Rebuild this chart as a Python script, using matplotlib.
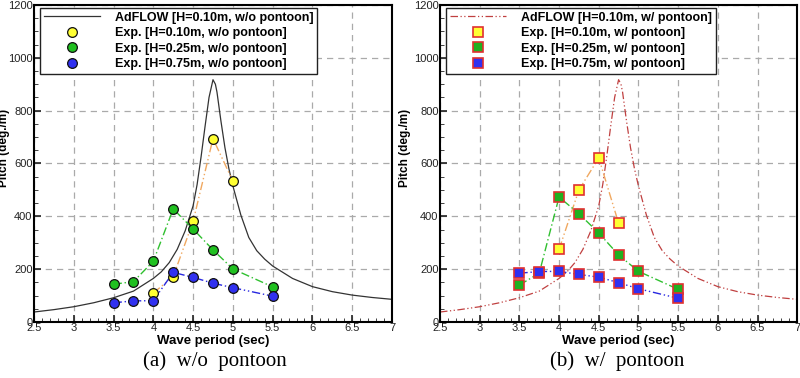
import matplotlib
matplotlib.use("Agg")
import matplotlib.pyplot as plt
from matplotlib.ticker import MultipleLocator

plt.rcParams['font.family'] = ['Liberation Sans', 'DejaVu Sans']

# AdFLOW curve (H=0.10m)
cfd_t = [2.5, 2.75, 3.0, 3.25, 3.5, 3.75, 4.0, 4.1, 4.2, 4.3, 4.4, 4.5,
         4.55, 4.6, 4.65, 4.7, 4.75, 4.78, 4.8, 4.85, 4.9, 4.95, 5.0,
         5.1, 5.2, 5.3, 5.4, 5.5, 5.75, 6.0, 6.25, 6.5, 6.75, 7.0]
cfd_pitch = [38, 47, 58, 73, 92, 117, 165, 190, 225, 275, 345, 440,
             520, 625, 740, 850, 917, 900, 870, 760, 660, 580, 515,
             405, 320, 270, 238, 212, 165, 134, 115, 102, 93, 86]

# experiments, w/o pontoon
a_t10 = [4.0, 4.25, 4.5, 4.75, 5.0]
a_p10 = [110, 172, 381, 694, 533]
a_t25 = [3.5, 3.75, 4.0, 4.25, 4.5, 4.75, 5.0, 5.5]
a_p25 = [143, 153, 230, 428, 352, 273, 201, 133]
a_t75 = [3.5, 3.75, 4.0, 4.25, 4.5, 4.75, 5.0, 5.5]
a_p75 = [73, 80, 81, 188, 169, 147, 130, 98]

# experiments, w/ pontoon
b_t10 = [4.0, 4.25, 4.5, 4.75]
b_p10 = [275, 500, 621, 374]
b_t25 = [3.5, 3.75, 4.0, 4.25, 4.5, 4.75, 5.0, 5.5]
b_p25 = [140, 185, 473, 410, 337, 254, 192, 124]
b_t75 = [3.5, 3.75, 4.0, 4.25, 4.5, 4.75, 5.0, 5.5]
b_p75 = [185, 191, 192, 180, 170, 149, 126, 90]

xticks = [2.5, 3, 3.5, 4, 4.5, 5, 5.5, 6, 6.5, 7]
xticklabels = ['2.5', '3', '3.5', '4', '4.5', '5', '5.5', '6', '6.5', '7']
yticks = [0, 200, 400, 600, 800, 1000, 1200]

fig = plt.figure(figsize=(8, 3.78), dpi=100)
ax1 = fig.add_axes([0.0425, 0.148, 0.4475, 0.839])
ax2 = fig.add_axes([0.55, 0.148, 0.4465, 0.839])

dd = (0, (6, 2, 1, 2, 1, 2))   # dash-dot-dot
dd1 = (0, (6, 2, 1, 2))        # dash-dot


def style(ax, ylx):
    ax.set_xlim(2.5, 7)
    ax.set_ylim(0, 1200)
    ax.set_xticks(xticks)
    ax.set_xticklabels(xticklabels)
    ax.set_yticks(yticks)
    ax.xaxis.set_minor_locator(MultipleLocator(0.1))
    ax.yaxis.set_minor_locator(MultipleLocator(50))
    ax.tick_params(which='both', direction='in', labelsize=8, colors='#222222',
                   pad=1)
    ax.tick_params(which='major', length=5, width=1.2)
    ax.tick_params(which='minor', length=3, width=0.6)
    ax.grid(True, which='major', color='#aaaaaa', linestyle=(0, (5, 4)), lw=0.9)
    ax.set_axisbelow(True)
    for s in ax.spines.values():
        s.set_linewidth(1.5)
    ax.set_xlabel('Wave period (sec)', fontsize=9.5, fontweight='bold', labelpad=1)
    ax.set_ylabel('Pitch (deg./m)', fontsize=8.5, fontweight='bold')
    ax.yaxis.set_label_coords(ylx, 0.55)


# (a) w/o pontoon
ax1.plot(cfd_t, cfd_pitch, color='#333333', lw=0.9,
         label='AdFLOW [H=0.10m, w/o pontoon]')
ax1.plot(a_t10, a_p10, color='#f0a860', lw=1, linestyle=dd)
ax1.plot(a_t25, a_p25, color='#30c030', lw=1, linestyle=dd1)
ax1.plot(a_t75, a_p75, color='#2828e0', lw=1, linestyle=dd)
ax1.plot(a_t10, a_p10, 'o', ms=7, mfc='#ffff33', mec='#111111', mew=0.9,
         label='Exp. [H=0.10m, w/o pontoon]')
ax1.plot(a_t25, a_p25, 'o', ms=7, mfc='#20c020', mec='#111111', mew=0.9,
         label='Exp. [H=0.25m, w/o pontoon]')
ax1.plot(a_t75, a_p75, 'o', ms=7, mfc='#3030f0', mec='#111111', mew=0.9,
         label='Exp. [H=0.75m, w/o pontoon]')

# (b) w/ pontoon
ax2.plot(cfd_t, cfd_pitch, color='#c04040', lw=0.9, linestyle=dd,
         label='AdFLOW [H=0.10m, w/ pontoon]')
ax2.plot(b_t10, b_p10, color='#f0a860', lw=1, linestyle=dd)
ax2.plot(b_t25, b_p25, color='#30c030', lw=1, linestyle=dd1)
ax2.plot(b_t75, b_p75, color='#2828e0', lw=1, linestyle=dd)
ax2.plot(b_t10, b_p10, 's', ms=7, mfc='#ffff33', mec='#e03030', mew=1.2,
         label='Exp. [H=0.10m, w/ pontoon]')
ax2.plot(b_t25, b_p25, 's', ms=7, mfc='#20b020', mec='#e03030', mew=1.2,
         label='Exp. [H=0.25m, w/ pontoon]')
ax2.plot(b_t75, b_p75, 's', ms=7, mfc='#3030f0', mec='#e03030', mew=1.2,
         label='Exp. [H=0.75m, w/ pontoon]')

for ax, ylx in ((ax1, -0.066), (ax2, -0.081)):
    style(ax, ylx)
    leg = ax.legend(loc='upper left', bbox_to_anchor=(0.017, 0.99),
                    prop={'weight': 'bold', 'size': 9}, frameon=True,
                    fancybox=False, edgecolor='#222222', framealpha=1,
                    handlelength=4.5, handletextpad=1.2, labelspacing=0.28,
                    borderpad=0.3, borderaxespad=0)
    leg.get_frame().set_linewidth(1.0)

fig.text(0.268, 0.045, '(a)  w/o  pontoon', ha='center', va='center',
         fontsize=15, family=['Liberation Serif', 'DejaVu Serif'])
fig.text(0.772, 0.045, '(b)  w/  pontoon', ha='center', va='center',
         fontsize=15, family=['Liberation Serif', 'DejaVu Serif'])

fig.savefig('out.png', dpi=100)
